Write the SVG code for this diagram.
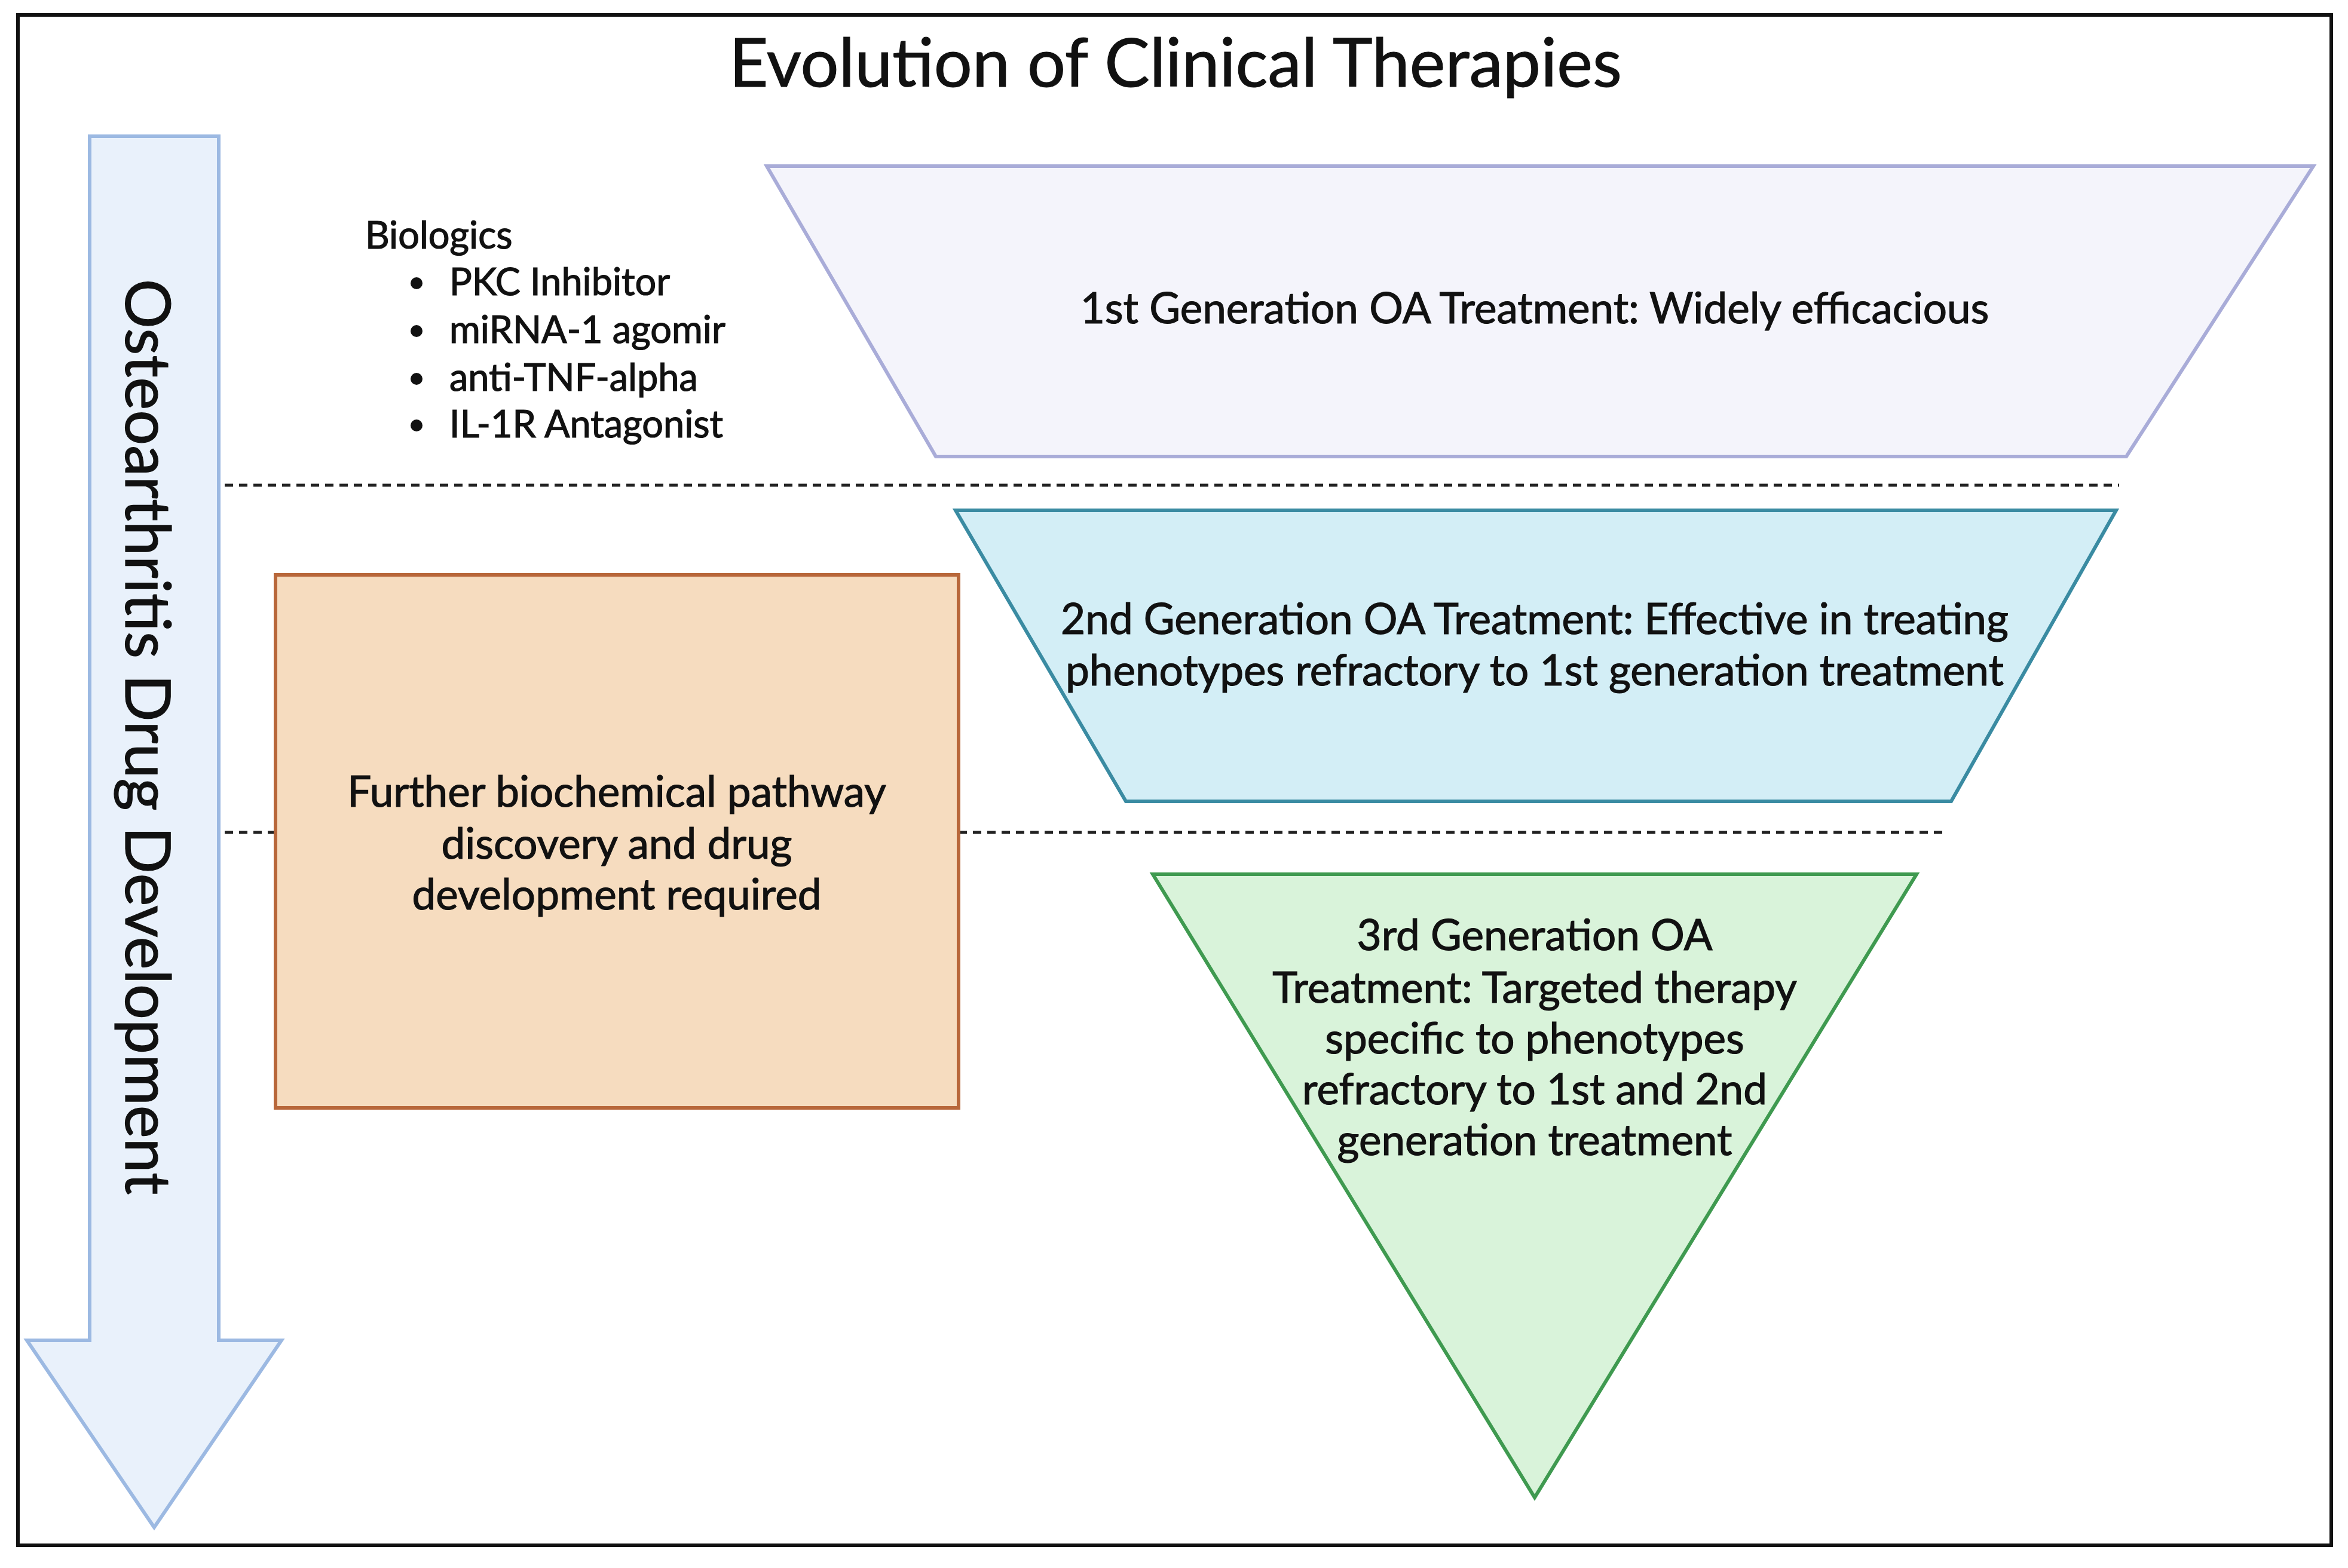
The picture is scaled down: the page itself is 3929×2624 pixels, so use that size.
<svg xmlns="http://www.w3.org/2000/svg" width="3929" height="2624" viewBox="0 0 3929 2624">
<style>
text{font-family:Lato,"Liberation Sans",sans-serif;fill:#111;text-anchor:middle;stroke:#111;stroke-width:1.2}
.t{font-size:71px}
.b{font-size:63px;text-anchor:start}
.d{stroke:#222;stroke-width:5;stroke-dasharray:14 10;fill:none}
</style>
<rect width="3929" height="2624" fill="#fff"/>
<rect x="30" y="25" width="3871" height="2561" fill="none" stroke="#111" stroke-width="6"/>
<text x="1967" y="145" style="font-size:113px">Evolution of Clinical Therapies</text>
<g id="connectors">
<line class="d" x1="376" y1="812" x2="3546" y2="812"/>
<line class="d" x1="376" y1="1393" x2="461" y2="1393"/>
<line class="d" x1="1604" y1="1393" x2="3257" y2="1393"/>
</g>
<g id="arrow">
<polygon points="150,228 366,228 366,2243 471,2243 258,2556 45,2243 150,2243" fill="#e9f1fb" stroke="#9cb9e2" stroke-width="6"/>
<text transform="translate(210,1233) rotate(90)" style="font-size:104px">Osteoarthritis Drug Development</text>
</g>
<g id="biologics">
<text class="b" x="611" y="416">Biologics</text>
<circle cx="697" cy="474" r="10" fill="#111"/><text class="b" x="752" y="494">PKC Inhibitor</text>
<circle cx="697" cy="554" r="10" fill="#111"/><text class="b" x="752" y="574">miRNA-1 agomir</text>
<circle cx="697" cy="634" r="10" fill="#111"/><text class="b" x="752" y="654">anti-TNF-alpha</text>
<circle cx="697" cy="712" r="10" fill="#111"/><text class="b" x="752" y="732">IL-1R Antagonist</text>
</g>
<g id="gen1">
<polygon points="1283,278 3871,278 3558,764 1566,764" fill="#f4f4fb" stroke="#a9acd8" stroke-width="6"/>
<text class="t" x="2568" y="541">1st Generation OA Treatment: Widely efficacious</text>
</g>
<g id="gen2">
<polygon points="1599,854 3541,854 3265,1341 1884,1341" fill="#d3eef6" stroke="#3a8ba2" stroke-width="6"/>
<text class="t" x="2568" y="1061">2nd Generation OA Treatment: Effective in treating</text>
<text class="t" x="2568" y="1147">phenotypes refractory to 1st generation treatment</text>
</g>
<g id="box">
<rect x="461" y="962" width="1143" height="892" fill="#f6dcbf" stroke="#b8673a" stroke-width="6"/>
<text class="t" x="1032" y="1350">Further biochemical pathway</text>
<text class="t" x="1032" y="1437">discovery and drug</text>
<text class="t" x="1032" y="1522">development required</text>
</g>
<g id="gen3">
<polygon points="1929,1463 3207,1463 2568,2506" fill="#d9f3da" stroke="#3f9a50" stroke-width="6"/>
<text class="t" x="2568" y="1590">3rd Generation OA</text>
<text class="t" x="2568" y="1678">Treatment: Targeted therapy</text>
<text class="t" x="2568" y="1763">specific to phenotypes</text>
<text class="t" x="2568" y="1848">refractory to 1st and 2nd</text>
<text class="t" x="2568" y="1933">generation treatment</text>
</g>
</svg>
